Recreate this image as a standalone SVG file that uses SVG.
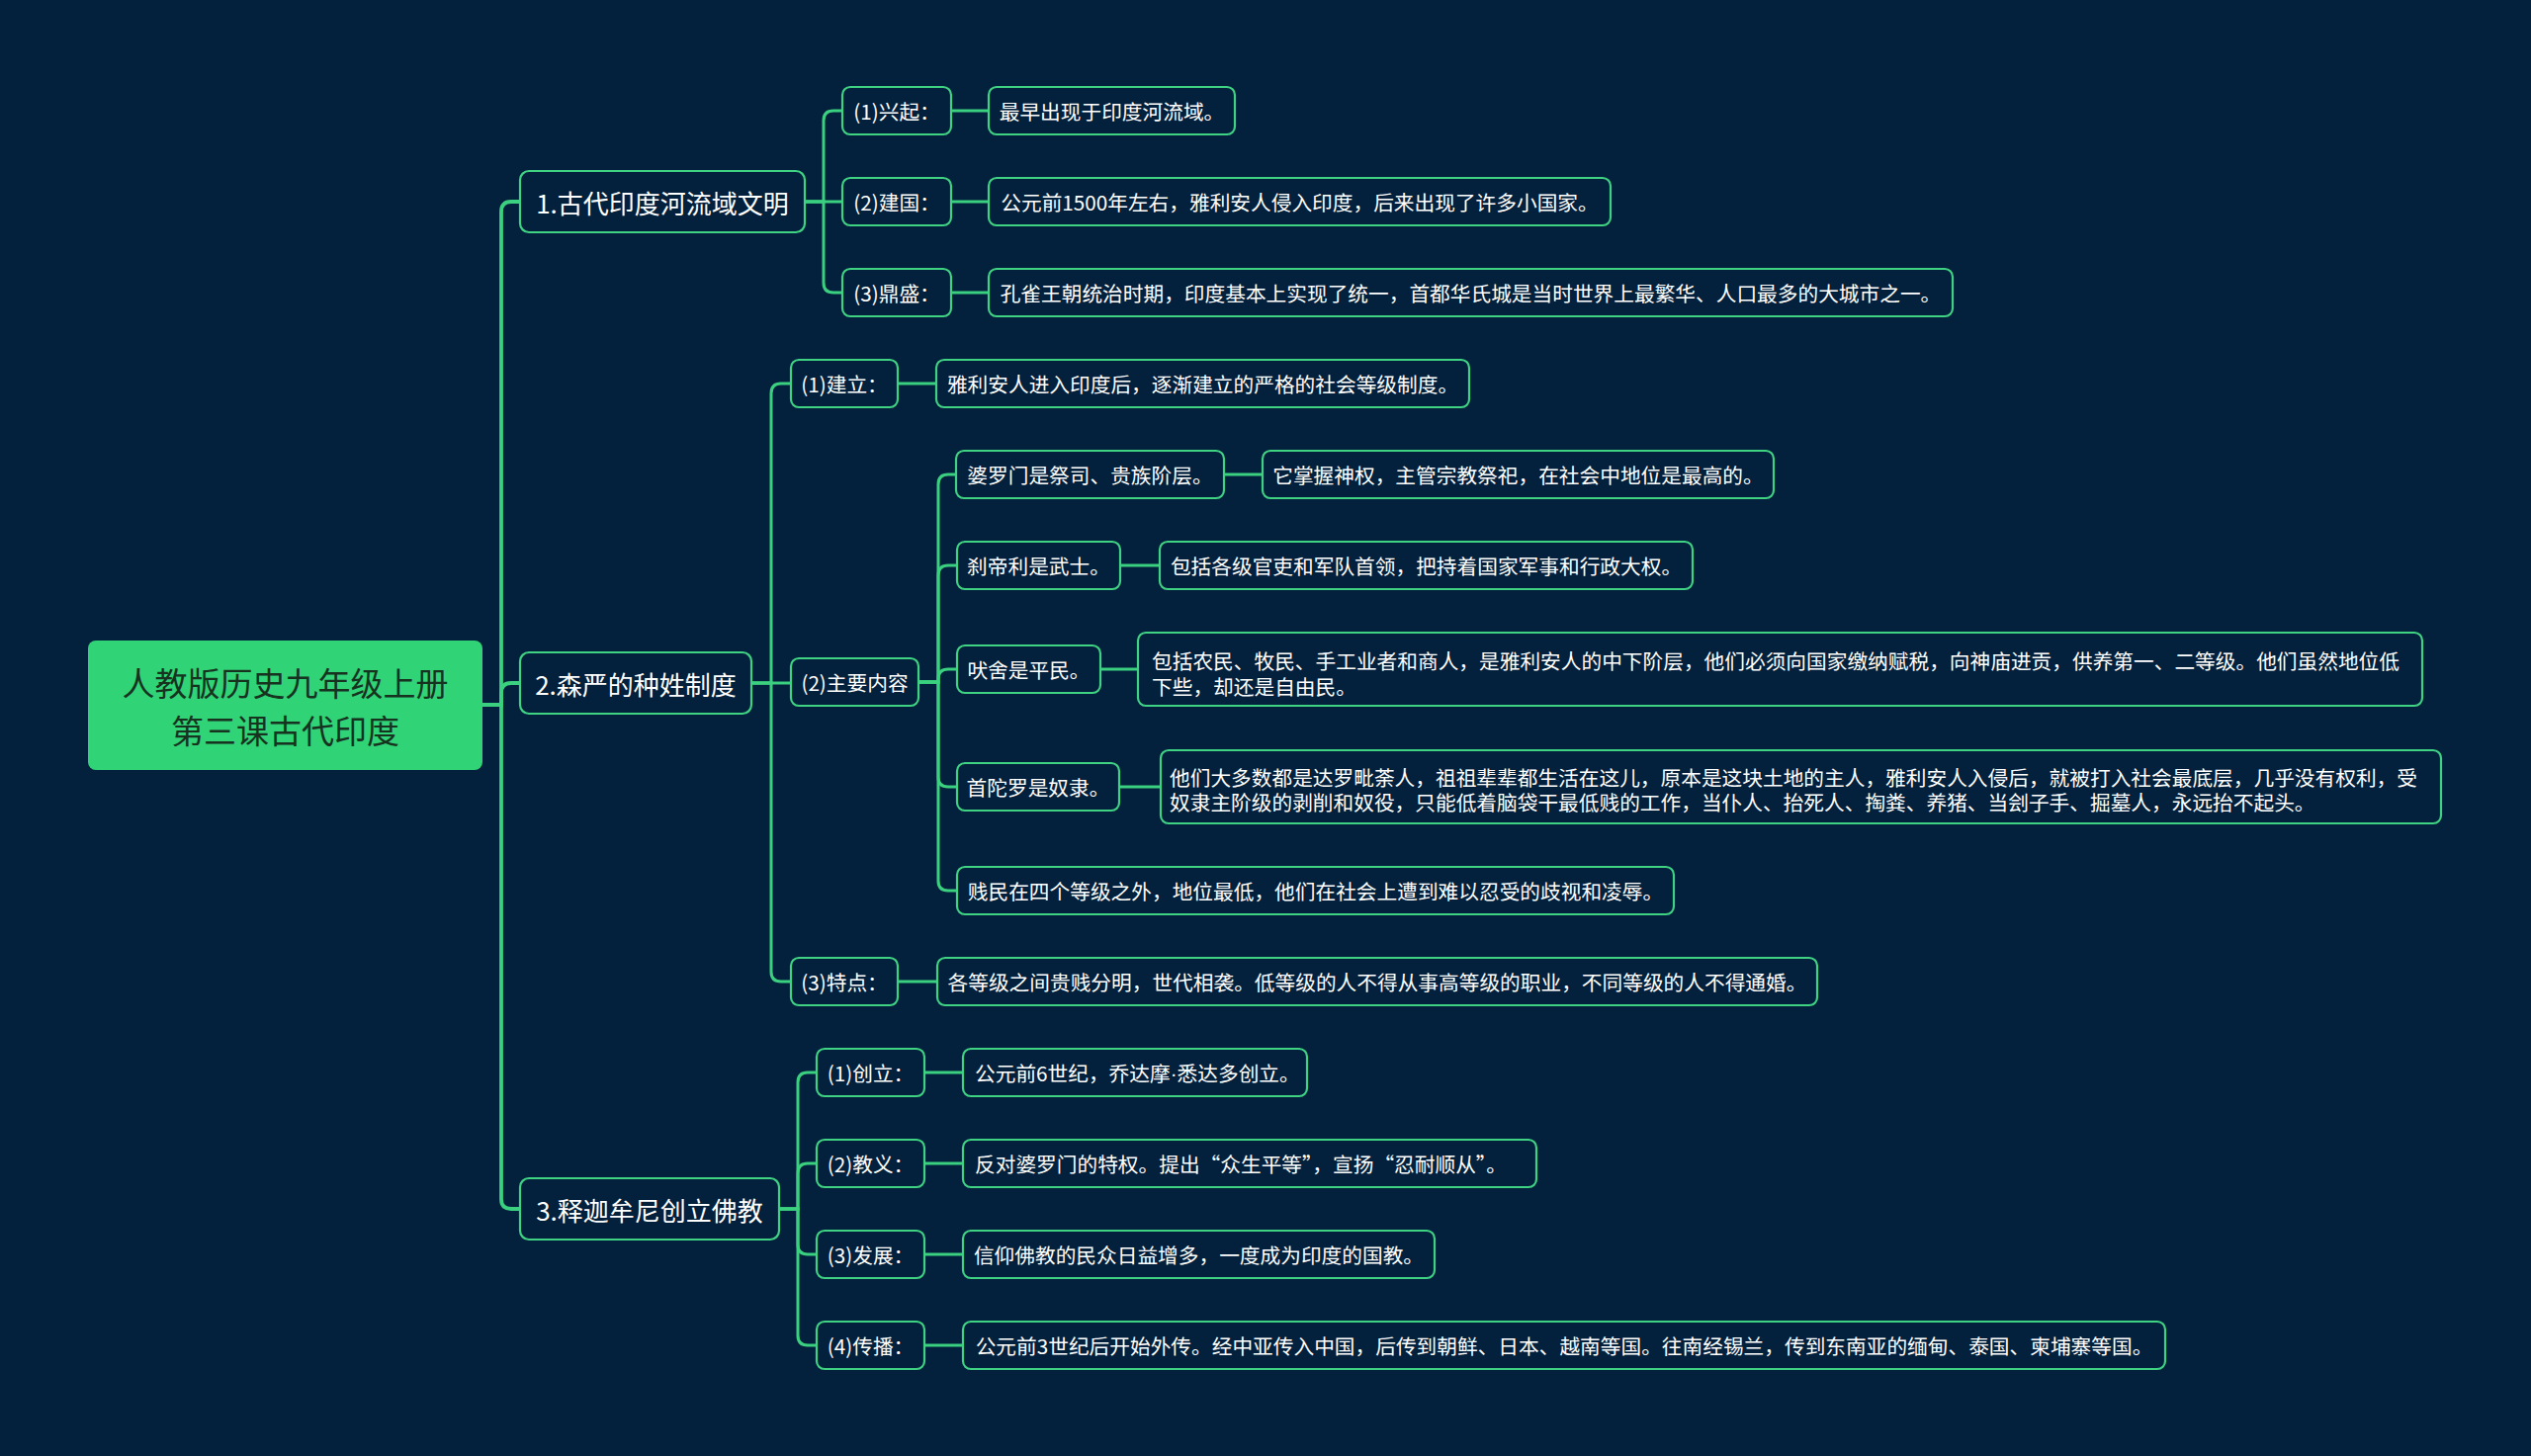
<svg xmlns="http://www.w3.org/2000/svg" width="2560" height="1473" viewBox="0 0 2560 1473">
<style>
.bg{fill:#03203c}
.nd{fill:#03203c;stroke:#3fd283;stroke-width:2.2}
.root{fill:#30d477}
.lk{fill:none;stroke:#3bd07f;stroke-width:3;stroke-linecap:round}
.tk{stroke-width:3.8}
text{font-family:"Noto Sans CJK SC","Noto Sans",sans-serif;fill:#ffffff}
.t1{font-size:26px;text-anchor:middle;dominant-baseline:central}
.t2{font-size:20.7px;text-anchor:middle;dominant-baseline:central}
.t3{font-size:20.7px;dominant-baseline:central}
.tr{font-size:33px;text-anchor:middle;fill:#17321f}
.lat{font-family:"Liberation Sans",sans-serif}
</style>
<rect class="bg" x="0" y="0" width="2560" height="1473"/>
<g id="connectors">
<path class="lk tk" d="M488 713 H507 V214 Q507 204 517 204 H526"/>
<path class="lk tk" d="M488 713 H507 V701 Q507 691 517 691 H526"/>
<path class="lk tk" d="M488 713 H507 V1213 Q507 1223 517 1223 H526"/>
<path class="lk" d="M814 204 H833 V122 Q833 112 843 112 H852"/>
<path class="lk" d="M814 204 H852"/>
<path class="lk" d="M814 204 H833 V286 Q833 296 843 296 H852"/>
<path class="lk" d="M962 112 H1000"/>
<path class="lk" d="M962 204 H1000"/>
<path class="lk" d="M962 296 H1000"/>
<path class="lk" d="M760 691 H780 V398 Q780 388 790 388 H800"/>
<path class="lk" d="M760 691 H800"/>
<path class="lk" d="M760 691 H780 V983 Q780 993 790 993 H800"/>
<path class="lk" d="M908 388 H947"/>
<path class="lk" d="M908 993 H948"/>
<path class="lk" d="M929 690 H949 V490 Q949 480 959 480 H967"/>
<path class="lk" d="M929 690 H949 V582 Q949 572 959 572 H968"/>
<path class="lk" d="M929 690 H949 V687 Q949 677 959 677 H968"/>
<path class="lk" d="M929 690 H949 V786 Q949 796 959 796 H968"/>
<path class="lk" d="M929 690 H949 V891 Q949 901 959 901 H968"/>
<path class="lk" d="M1238 480 H1277"/>
<path class="lk" d="M1133 572 H1173"/>
<path class="lk" d="M1113 677 H1151"/>
<path class="lk" d="M1132 796 H1174"/>
<path class="lk" d="M788 1223 H807 V1095 Q807 1085 817 1085 H826"/>
<path class="lk" d="M788 1223 H807 V1187 Q807 1177 817 1177 H826"/>
<path class="lk" d="M788 1223 H807 V1259 Q807 1269 817 1269 H826"/>
<path class="lk" d="M788 1223 H807 V1351 Q807 1361 817 1361 H826"/>
<path class="lk" d="M935 1085 H974"/>
<path class="lk" d="M935 1177 H974"/>
<path class="lk" d="M935 1269 H974"/>
<path class="lk" d="M935 1361 H974"/>
</g>
<g id="root">
<rect class="root" x="89" y="648" width="399" height="131" rx="8"/>
<text class="tr"><tspan x="288.5" y="704">人教版历史九年级上册</tspan><tspan x="288.5" y="752">第三课古代印度</tspan></text>
</g>
<g id="n1">
<rect class="nd" x="526" y="173" width="288" height="62" rx="9"/>
<text class="t1" x="670" y="204">1.古代印度河流域文明</text>
</g>
<g id="n1a"><rect class="nd" x="852" y="88" width="110" height="48" rx="8"/><text class="t2" x="907" y="112">(1)兴起：</text></g>
<g id="n1b"><rect class="nd" x="852" y="180" width="110" height="48" rx="8"/><text class="t2" x="907" y="204">(2)建国：</text></g>
<g id="n1c"><rect class="nd" x="852" y="272" width="110" height="48" rx="8"/><text class="t2" x="907" y="296">(3)鼎盛：</text></g>
<g id="d1a"><rect class="nd" x="1000" y="88" width="249" height="48" rx="8"/><text class="t2" x="1124.5" y="112">最早出现于印度河流域。</text></g>
<g id="d1b"><rect class="nd" x="1000" y="180" width="629" height="48" rx="8"/><text class="t2" x="1314.5" y="204">公元前1500年左右，雅利安人侵入印度，后来出现了许多小国家。</text></g>
<g id="d1c"><rect class="nd" x="1000" y="272" width="975" height="48" rx="8"/><text class="t2" x="1487.5" y="296">孔雀王朝统治时期，印度基本上实现了统一，首都华氏城是当时世界上最繁华、人口最多的大城市之一。</text></g>
<g id="n2">
<rect class="nd" x="526" y="660" width="234" height="62" rx="9"/>
<text class="t1" x="643" y="691">2.森严的种姓制度</text>
</g>
<g id="n2a"><rect class="nd" x="800" y="364" width="108" height="48" rx="8"/><text class="t2" x="854" y="388">(1)建立：</text></g>
<g id="d2a"><rect class="nd" x="947" y="364" width="539" height="48" rx="8"/><text class="t2" x="1216.5" y="388">雅利安人进入印度后，逐渐建立的严格的社会等级制度。</text></g>
<g id="n2b"><rect class="nd" x="800" y="666" width="129" height="48" rx="8"/><text class="t2" x="864.5" y="690">(2)主要内容</text></g>
<g id="c1"><rect class="nd" x="967" y="456" width="271" height="48" rx="8"/><text class="t2" x="1102.5" y="480">婆罗门是祭司、贵族阶层。</text></g>
<g id="e1"><rect class="nd" x="1277" y="456" width="517" height="48" rx="8"/><text class="t2" x="1535.5" y="480">它掌握神权，主管宗教祭祀，在社会中地位是最高的。</text></g>
<g id="c2"><rect class="nd" x="968" y="548" width="165" height="48" rx="8"/><text class="t2" x="1050.5" y="572">刹帝利是武士。</text></g>
<g id="e2"><rect class="nd" x="1173" y="548" width="539" height="48" rx="8"/><text class="t2" x="1442.5" y="572">包括各级官吏和军队首领，把持着国家军事和行政大权。</text></g>
<g id="c3"><rect class="nd" x="968" y="653" width="145" height="48" rx="8"/><text class="t2" x="1040.5" y="677">吠舍是平民。</text></g>
<g id="e3"><rect class="nd" x="1151" y="640" width="1299" height="74" rx="8"/>
<text class="t3"><tspan x="1165" y="668">包括农民、牧民、手工业者和商人，是雅利安人的中下阶层，他们必须向国家缴纳赋税，向神庙进贡，供养第一、二等级。他们虽然地位低</tspan><tspan x="1165" y="694">下些，却还是自由民。</tspan></text></g>
<g id="c4"><rect class="nd" x="968" y="772" width="164" height="48" rx="8"/><text class="t2" x="1050" y="796">首陀罗是奴隶。</text></g>
<g id="e4"><rect class="nd" x="1174" y="759" width="1295" height="74" rx="8"/>
<text class="t3"><tspan x="1183" y="786">他们大多数都是达罗毗荼人，祖祖辈辈都生活在这儿，原本是这块土地的主人，雅利安人入侵后，就被打入社会最底层，几乎没有权利，受</tspan><tspan x="1183" y="811">奴隶主阶级的剥削和奴役，只能低着脑袋干最低贱的工作，当仆人、抬死人、掏粪、养猪、当刽子手、掘墓人，永远抬不起头。</tspan></text></g>
<g id="c5"><rect class="nd" x="968" y="877" width="725" height="48" rx="8"/><text class="t2" x="1330.5" y="901">贱民在四个等级之外，地位最低，他们在社会上遭到难以忍受的歧视和凌辱。</text></g>
<g id="n2c"><rect class="nd" x="800" y="969" width="108" height="48" rx="8"/><text class="t2" x="854" y="993">(3)特点：</text></g>
<g id="d2c"><rect class="nd" x="948" y="969" width="890" height="48" rx="8"/><text class="t2" x="1393" y="993">各等级之间贵贱分明，世代相袭。低等级的人不得从事高等级的职业，不同等级的人不得通婚。</text></g>
<g id="n3">
<rect class="nd" x="526" y="1192" width="262" height="62" rx="9"/>
<text class="t1" x="657" y="1223">3.释迦牟尼创立佛教</text>
</g>
<g id="n3a"><rect class="nd" x="826" y="1061" width="109" height="48" rx="8"/><text class="t2" x="880.5" y="1085">(1)创立：</text></g>
<g id="n3b"><rect class="nd" x="826" y="1153" width="109" height="48" rx="8"/><text class="t2" x="880.5" y="1177">(2)教义：</text></g>
<g id="n3c"><rect class="nd" x="826" y="1245" width="109" height="48" rx="8"/><text class="t2" x="880.5" y="1269">(3)发展：</text></g>
<g id="n3d"><rect class="nd" x="826" y="1337" width="109" height="48" rx="8"/><text class="t2" x="880.5" y="1361">(4)传播：</text></g>
<g id="d3a"><rect class="nd" x="974" y="1061" width="348" height="48" rx="8"/><text class="t3" x="986" y="1085">公元前6世纪，乔达摩<tspan class="lat">·</tspan>悉达多创立。</text></g>
<g id="d3b"><rect class="nd" x="974" y="1153" width="580" height="48" rx="8"/><text class="t3" x="986" y="1177">反对婆罗门的特权。提出“众生平等”，宣扬“忍耐顺从”。</text></g>
<g id="d3c"><rect class="nd" x="974" y="1245" width="477" height="48" rx="8"/><text class="t2" x="1212.5" y="1269">信仰佛教的民众日益增多，一度成为印度的国教。</text></g>
<g id="d3d"><rect class="nd" x="974" y="1337" width="1216" height="48" rx="8"/><text class="t2" x="1582" y="1361">公元前3世纪后开始外传。经中亚传入中国，后传到朝鲜、日本、越南等国。往南经锡兰，传到东南亚的缅甸、泰国、柬埔寨等国。</text></g>
</svg>
